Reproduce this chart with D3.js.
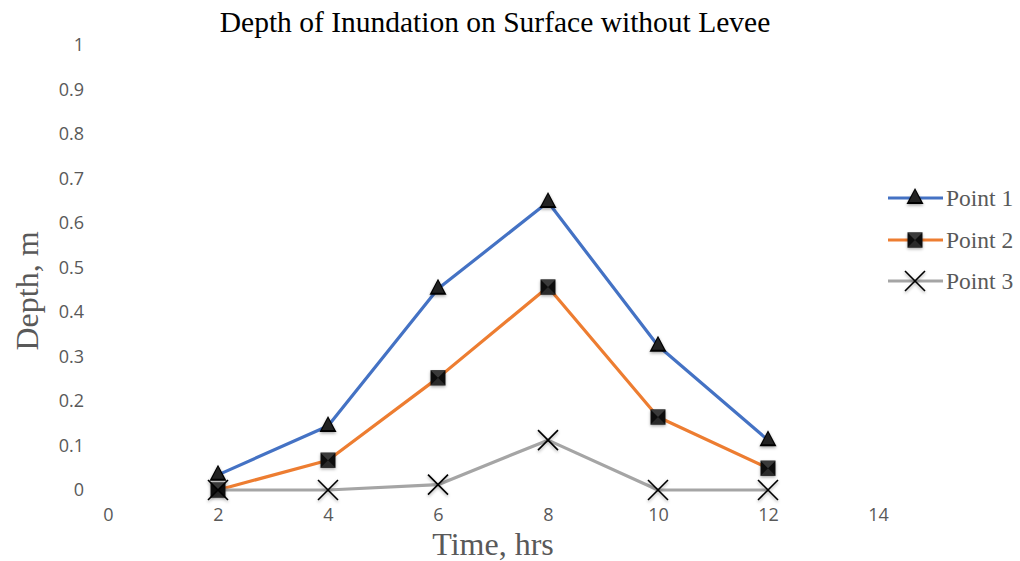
<!DOCTYPE html>
<html><head><meta charset="utf-8">
<script src="https://cdn.jsdelivr.net/npm/d3@7"></script>
<style>body{margin:0;background:#fff}</style>
</head><body>
<svg id="c" width="1020" height="561"></svg>
<script>
const times = [2, 4, 6, 8, 10, 12];
const point1 = [0.034, 0.144, 0.452, 0.647, 0.324, 0.112];
const point2 = [0.0, 0.067, 0.252, 0.456, 0.164, 0.049];
const point3 = [0.0, 0.0, 0.012, 0.112, 0.0, 0.0];
const seriesNames = ["Point 1", "Point 2", "Point 3"];
const xTicks = [0, 2, 4, 6, 8, 10, 12, 14];
const yTicks = [0, 0.1, 0.2, 0.3, 0.4, 0.5, 0.6, 0.7, 0.8, 0.9, 1];

const colors = ["#4472C4", "#ED7D31", "#A5A5A5"];
const markers = ["tri", "sq", "x"];
const series = [point1, point2, point3];

const svg = d3.select("#c");
const x = d3.scaleLinear().domain([0, 14]).range([108, 878]);
const y = d3.scaleLinear().domain([0, 1]).range([490, 45]);

const defs = svg.append("defs");
const f = defs.append("filter").attr("id","sh").attr("x","-50%").attr("y","-50%").attr("width","200%").attr("height","200%");
f.append("feDropShadow").attr("dx",0).attr("dy",1.5).attr("stdDeviation",1.5).attr("flood-color","#000").attr("flood-opacity",0.35);

// title
svg.append("text").attr("x", 495).attr("y", 32).attr("text-anchor","middle")
  .attr("font-family","Liberation Serif, serif").attr("font-size",29.5).attr("fill","#000")
  .text("Depth of Inundation on Surface without Levee");

// axes
const xAxis = d3.axisBottom(x).tickValues(xTicks).tickSize(0).tickFormat(d3.format("d"));
const gx = svg.append("g").attr("transform","translate(0,505)").call(xAxis);
gx.select(".domain").remove();
gx.selectAll("text").attr("font-family","Open Sans, sans-serif").attr("font-size",18).attr("fill","#595959");

const yAxis = d3.axisLeft(y).tickValues(yTicks).tickSize(0).tickFormat(d => d3.format("")(+d.toFixed(1)));
const gy = svg.append("g").attr("transform","translate(87,0)").call(yAxis);
gy.select(".domain").remove();
gy.selectAll("text").attr("font-family","Open Sans, sans-serif").attr("font-size",18).attr("fill","#595959");

// axis titles
svg.append("text").attr("x", 493).attr("y", 555).attr("text-anchor","middle")
  .attr("font-family","Liberation Serif, serif").attr("font-size",32).attr("fill","#595959").text("Time, hrs");
svg.append("text").attr("transform","translate(38,291) rotate(-90)").attr("text-anchor","middle")
  .attr("font-family","Liberation Serif, serif").attr("font-size",32).attr("fill","#595959").text("Depth, m");

function drawMarker(g, type, cx, cy) {
  if (type === "tri") {
    g.append("path").attr("d", `M${cx},${cy-10}L${cx+8.5},${cy+6}L${cx-8.5},${cy+6}Z`).attr("fill","#000").attr("filter","url(#sh)");
    g.append("path").attr("d", `M${cx},${cy-8}L${cx+6},${cy+4}L${cx-6},${cy+4}Z`).attr("fill","#222");
  } else if (type === "sq") {
    g.append("rect").attr("x",cx-7.5).attr("y",cy-7.5).attr("width",15).attr("height",15).attr("fill","#111").attr("filter","url(#sh)");
    g.append("path").attr("d", `M${cx-7.5},${cy-7.5}L${cx},${cy}L${cx+7.5},${cy-7.5}Z`).attr("fill","#3a3a3a");
    g.append("path").attr("d", `M${cx-7.5},${cy+7.5}L${cx},${cy}L${cx+7.5},${cy+7.5}Z`).attr("fill","#2a2a2a");
  } else {
    g.append("path").attr("d", `M${cx-10},${cy-10}L${cx+10},${cy+10}M${cx+10},${cy-10}L${cx-10},${cy+10}`)
      .attr("stroke","#000").attr("stroke-width",1.6).attr("fill","none").attr("filter","url(#sh)");
  }
}

const line = d3.line().x((d,i) => x(times[i])).y(d => y(d));
series.forEach((s, k) => {
  svg.append("path").datum(s).attr("d", line).attr("fill","none").attr("stroke",colors[k]).attr("stroke-width",3.2).attr("stroke-linejoin","round");
});
series.forEach((s, k) => {
  const g = svg.append("g");
  s.forEach((v, i) => drawMarker(g, markers[k], x(times[i]), y(v)));
});

// legend
const legY = [198, 240, 281];
seriesNames.forEach((n, k) => {
  const g = svg.append("g");
  g.append("line").attr("x1",888).attr("x2",943).attr("y1",legY[k]).attr("y2",legY[k]).attr("stroke",colors[k]).attr("stroke-width",3.2);
  drawMarker(g, markers[k], 915, legY[k]);
  g.append("text").attr("x",946).attr("y",legY[k]+7.5).attr("font-family","Liberation Serif, serif").attr("font-size",23.5).attr("fill","#595959").text(n);
});
</script>
</body></html>
